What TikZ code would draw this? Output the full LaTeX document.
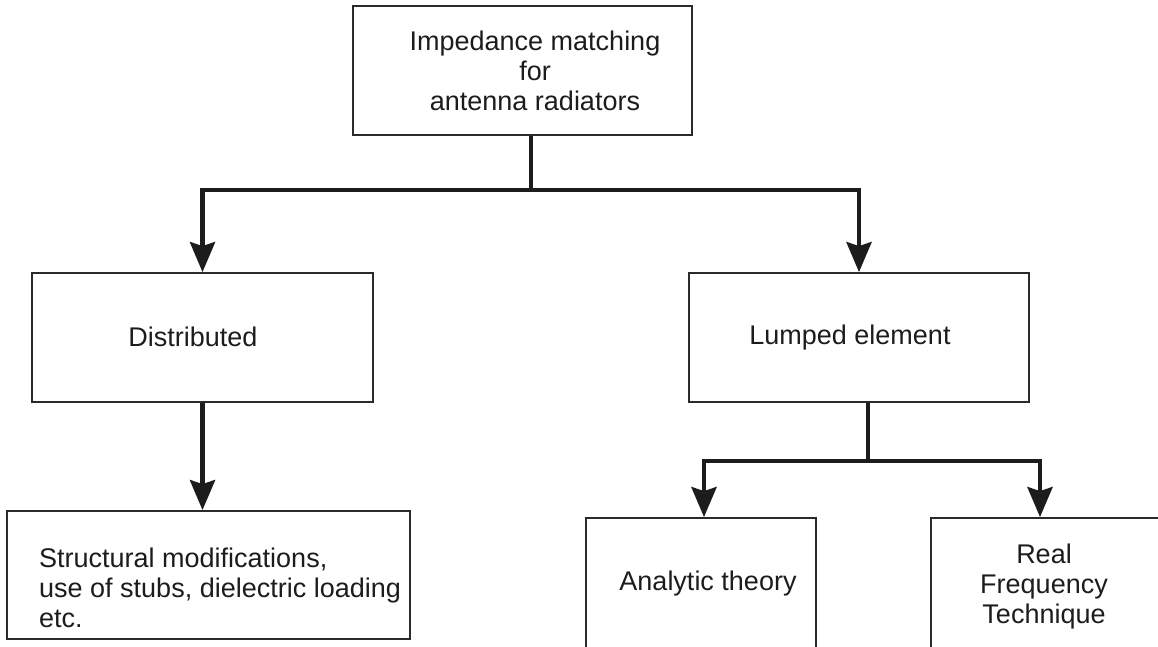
\documentclass[tikz,border=0pt]{standalone}
\usepackage{fontspec}
\setmainfont{Liberation Sans}
\usepackage{xcolor}
\usetikzlibrary{positioning, arrows.meta}
\definecolor{ink}{HTML}{1C1C1C}
\definecolor{frame}{HTML}{2A2A2A}

\begin{document}
\begin{tikzpicture}[x=1pt, y=-1pt,
    box/.style={draw=frame, line width=1.8pt, inner sep=0pt},
    txt/.style={text=ink, font=\fontsize{27}{30}\selectfont, inner sep=0pt},
    link/.style={draw=ink, line width=4.5pt},
    arr/.style={link, -{Stealth[length=30pt, width=25pt, inset=4pt]}}]
  \useasboundingbox (0,0) rectangle (1158,646);
  % boxes
  \node[box, minimum width=339pt, minimum height=129pt] (top)  at (522.5,70.5) {};
  \node[box, minimum width=341pt, minimum height=129pt] (dist) at (202.5,337.5) {};
  \node[box, minimum width=340pt, minimum height=129pt] (lump) at (859,337.5) {};
  \node[box, minimum width=403pt, minimum height=128pt] (mods) at (208.5,575) {};
  \node[box, minimum width=230pt, minimum height=172pt] (ana)  at (701,604) {};
  \node[box, minimum width=234pt, minimum height=172pt] (real) at (1048,604) {};
  % texts
  \node[txt, align=center] (top-t) at (535,70.4)
    {Impedance matching\\for\\antenna radiators};
  \node[txt, anchor=base] (dist-t) at (193,346) {Distributed};
  \node[txt, anchor=base] (lump-t) at (850,344) {Lumped element};
  \node[txt, align=left, anchor=west] (mods-t) at (39,587.9)
    {Structural modifications,\\use of stubs, dielectric loading\\etc.};
  \node[txt, anchor=base] (ana-t) at (708,590) {Analytic theory};
  \node[txt, align=center] (real-t) at (1044,586.2)
    {Real\\Frequency\\Technique};
  % connectors
  \coordinate (fork) at (531,190);
  \coordinate (fork2) at (868,461);
  \draw[link] (top.south -| fork) -- (fork);
  \draw[arr] (fork) -| (dist.north);
  \draw[arr] (fork) -| (lump.north);
  \draw[arr] (dist.south) -- (dist.south |- mods.north);
  \draw[link] (lump.south -| fork2) -- (fork2);
  \draw[arr] (fork2) -| ([xshift=3pt]ana.north);
  \draw[arr] (fork2) -| ([xshift=-8pt]real.north);
\end{tikzpicture}
\end{document}
